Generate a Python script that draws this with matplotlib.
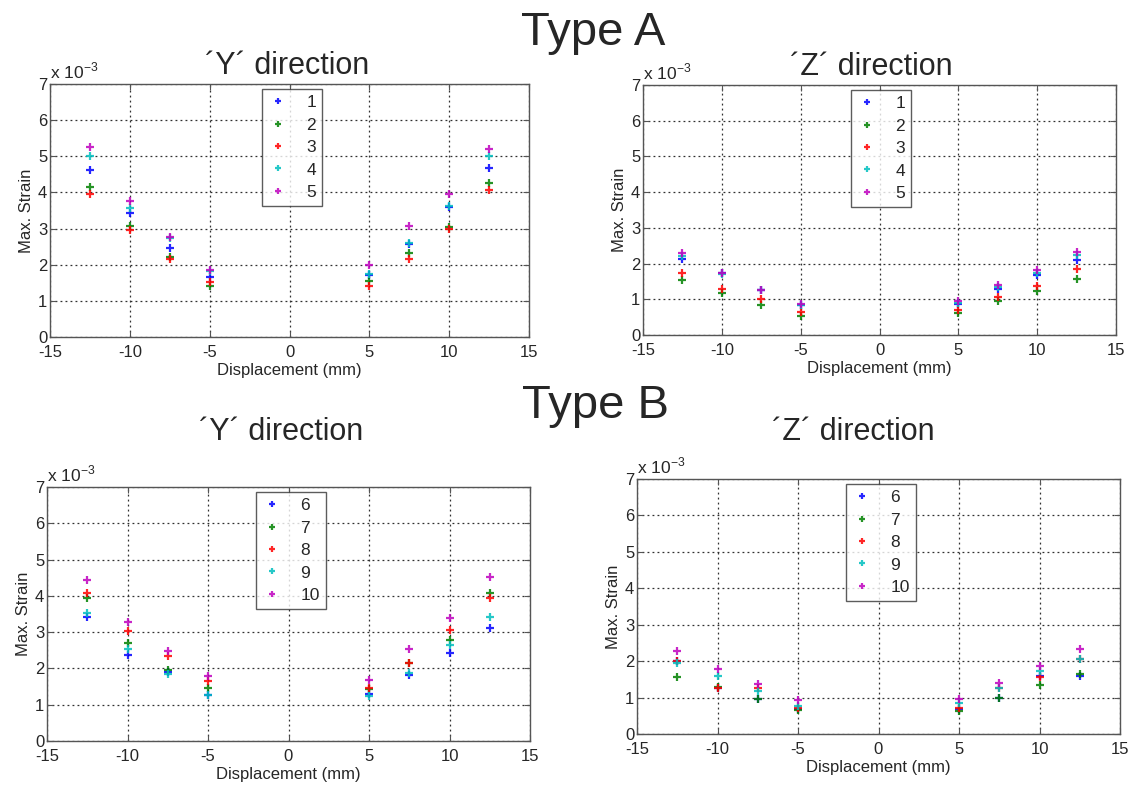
import matplotlib
matplotlib.use("Agg")
import matplotlib.pyplot as plt

plt.rcParams["font.family"] = ["Liberation Sans", "DejaVu Sans"]
plt.rcParams["mathtext.fontset"] = "custom"
plt.rcParams["mathtext.rm"] = "Liberation Sans"
plt.rcParams["axes.unicode_minus"] = False

W, H = 1134, 785
TXT = "#262626"

# Displacement positions (mm)
displacement = [-12.5, -10, -7.5, -5, 5, 7.5, 10, 12.5]

# Max. strain (x 10^-3) -- Type A, 'Y' direction
a_y_1 = [4.62, 3.42, 2.47, 1.67, 1.72, 2.58, 3.60, 4.68]
a_y_2 = [4.15, 3.08, 2.20, 1.40, 1.55, 2.32, 3.05, 4.25]
a_y_3 = [3.97, 2.97, 2.15, 1.52, 1.40, 2.15, 3.00, 4.07]
a_y_4 = [5.00, 3.58, 2.75, 1.83, 1.75, 2.60, 3.62, 5.00]
a_y_5 = [5.25, 3.77, 2.77, 1.85, 1.98, 3.08, 3.95, 5.20]

# Type A, 'Z' direction
a_z_1 = [2.14, 1.74, 1.27, 0.85, 0.86, 1.30, 1.68, 2.09]
a_z_2 = [1.55, 1.18, 0.84, 0.53, 0.63, 0.94, 1.24, 1.56]
a_z_3 = [1.75, 1.30, 1.00, 0.65, 0.70, 1.07, 1.37, 1.84]
a_z_4 = [2.20, 1.72, 1.25, 0.83, 0.90, 1.35, 1.75, 2.25]
a_z_5 = [2.30, 1.74, 1.27, 0.86, 0.96, 1.40, 1.81, 2.32]

# Type B, 'Y' direction
b_y_6 = [3.43, 2.37, 1.89, 1.26, 1.30, 1.83, 2.43, 3.12]
b_y_7 = [3.95, 2.70, 1.95, 1.45, 1.42, 2.15, 2.79, 4.09]
b_y_8 = [4.08, 3.03, 2.35, 1.66, 1.47, 2.15, 3.06, 3.95]
b_y_9 = [3.52, 2.54, 1.85, 1.26, 1.25, 1.88, 2.65, 3.42]
b_y_10 = [4.45, 3.27, 2.48, 1.78, 1.67, 2.54, 3.38, 4.52]

# Type B, 'Z' direction
b_z_6 = [2.00, 1.25, 0.95, 0.70, 0.69, 1.00, 1.60, 1.60]
b_z_7 = [1.56, 1.28, 0.95, 0.65, 0.64, 1.00, 1.34, 1.66]
b_z_8 = [2.01, 1.25, 1.27, 0.72, 0.72, 1.25, 1.57, 2.07]
b_z_9 = [1.96, 1.59, 1.17, 0.76, 0.84, 1.25, 1.72, 2.07]
b_z_10 = [2.27, 1.78, 1.36, 0.93, 0.97, 1.41, 1.86, 2.33]

labels_a = ["1", "2", "3", "4", "5"]
labels_b = ["6", "7", "8", "9", "10"]
colors = ["#0000ff", "#008000", "#ff0000", "#00bfbf", "#bf00bf"]

x_ticks = [-15, -10, -5, 0, 5, 10, 15]
y_ticks = [0, 1, 2, 3, 4, 5, 6, 7]

fig = plt.figure(figsize=(W / 100, H / 100), dpi=100)


def px_axes(left, top, right, bottom):
    return fig.add_axes([left / W, 1 - bottom / H, (right - left) / W, (bottom - top) / H])


def panel(box, series, labels, legend_xy):
    ax = px_axes(*box)
    for vals, lab, col in zip(series, labels, colors):
        ax.plot(displacement, vals, linestyle="none", marker="+", markersize=5.5,
                markeredgewidth=1.6, color=col, label=lab, alpha=0.85)
    ax.set_xlim(-15, 15)
    ax.set_ylim(0, 7)
    ax.set_xticks(x_ticks)
    ax.set_yticks(y_ticks)
    ax.grid(True, linestyle=(0, (1.5, 2.5)), color="#303030", linewidth=0.9)
    ax.tick_params(direction="in", top=True, right=True, length=4, width=0.8,
                   labelsize=12, colors="#555555", labelcolor=TXT)
    ax.tick_params(axis="x", pad=6)
    ax.tick_params(axis="y", pad=2)
    for s in ax.spines.values():
        s.set_color("#555555")
        s.set_linewidth(1.0)
    ax.set_xlabel("Displacement (mm)", fontsize=12, color=TXT, labelpad=2)
    ax.set_ylabel("Max. Strain", fontsize=12, color=TXT, labelpad=3)
    ax.text(0.0, 1.012, r"x 10$^{-3}$", transform=ax.transAxes, fontsize=12.5,
            color=TXT, ha="left", va="bottom")
    leg = ax.legend(loc="upper left", bbox_to_anchor=(legend_xy[0] / W, 1 - legend_xy[1] / H),
                    bbox_transform=fig.transFigure, borderaxespad=0, fontsize=12.5,
                    frameon=True, fancybox=False, handlelength=1.2, handletextpad=1.0,
                    borderpad=0.35, labelspacing=0.42, markerscale=0.8)
    leg.get_frame().set_edgecolor("#333333")
    leg.get_frame().set_linewidth(1.0)
    for t in leg.get_texts():
        t.set_color(TXT)
    return ax


panel((50, 84, 529, 337), [a_y_1, a_y_2, a_y_3, a_y_4, a_y_5], labels_a, (262, 89))
panel((643, 85, 1116, 335), [a_z_1, a_z_2, a_z_3, a_z_4, a_z_5], labels_a, (851, 90))
panel((47, 487, 530, 741), [b_y_6, b_y_7, b_y_8, b_y_9, b_y_10], labels_b, (256, 492))
panel((637, 479, 1120, 734), [b_z_6, b_z_7, b_z_8, b_z_9, b_z_10], labels_b, (846, 484))

# Group headings and panel titles
fig.text(593 / W, 1 - 45 / H, "Type A", fontsize=34, color=TXT, ha="center", va="baseline")
fig.text(595 / W, 1 - 418 / H, "Type B", fontsize=34, color=TXT, ha="center", va="baseline")
fig.text(287 / W, 1 - 74 / H, "\u00b4Y\u00b4 direction", fontsize=22, color=TXT, ha="center", va="baseline")
fig.text(871 / W, 1 - 75 / H, "\u00b4Z\u00b4 direction", fontsize=22, color=TXT, ha="center", va="baseline")
fig.text(281 / W, 1 - 440 / H, "\u00b4Y\u00b4 direction", fontsize=22, color=TXT, ha="center", va="baseline")
fig.text(853 / W, 1 - 440 / H, "\u00b4Z\u00b4 direction", fontsize=22, color=TXT, ha="center", va="baseline")

fig.savefig("out.png", dpi=100, facecolor="white")
